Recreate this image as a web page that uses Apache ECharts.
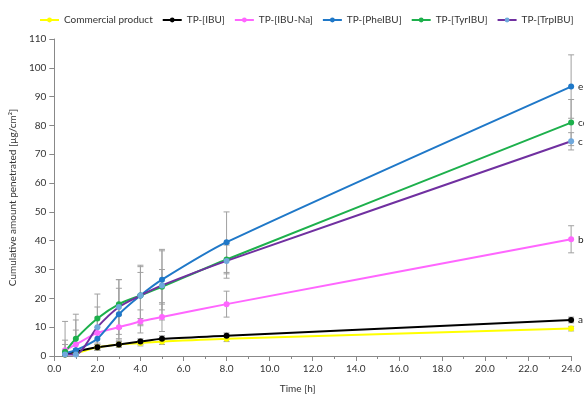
<!DOCTYPE html>
<html><head><meta charset="utf-8">
<script src="https://cdn.jsdelivr.net/npm/echarts@6/dist/echarts.min.js"></script>
<style>html,body{margin:0;padding:0;background:#fff}#c{width:584px;height:400px}</style>
</head><body><div id="c"></div>
<script>
const times = [0.5, 1, 2, 3, 4, 5, 8, 24];
const seriesNames = ['Commercial product','TP-[IBU]','TP-[IBU-Na]','TP-[PheIBU]','TP-[TyrIBU]','TP-[TrpIBU]'];
const commercial = [0.5, 1.0, 3.0, 4.0, 4.5, 5.0, 6.0, 9.5];
const tpIBU      = [0.5, 1.5, 3.0, 4.0, 5.0, 6.0, 7.0, 12.5];
const tpIBUNa    = [2.0, 4.0, 8.0, 10.0, 12.0, 13.5, 18.0, 40.5];
const tpPhe      = [1.0, 2.0, 6.0, 14.5, 21.0, 26.5, 39.5, 93.5];
const tpTyr      = [1.5, 6.0, 13.0, 18.0, 21.0, 24.0, 33.5, 81.0];
const tpTrp      = [0.5, 0.5, 10.0, 17.0, 21.0, 24.5, 33.0, 74.5];
const errCommercial = [0.5, 0.5, 1, 1, 1, 1, 1, 0.8];
const errIBU        = [0.5, 1, 1, 1, 1, 1, 1, 1];
const errIBUNa      = [2, 5, 5.5, 4, 4, 5, 4.5, 4.7];
const errPhe        = [1, 2, 4, 9, 10, 10.5, 10.5, 11];
const errTyr        = [10.5, 8.5, 8.5, 8.5, 8, 6, 5, 8];
const errTrp        = [5, 12, 7, 9.5, 10.5, 12, 6, 3];
const endLabels = ['', 'a', 'b', 'e', 'cd', 'c'];
const lineColors = ['#FFFF00', '#000000', '#FF66FF', '#1F78C8', '#1DB04C', '#7030A0'];
const markerColors = ['#FFFF00', '#000000', '#FF66FF', '#1F78C8', '#1DB04C', '#6FA8DC'];

const values = [commercial, tpIBU, tpIBUNa, tpPhe, tpTyr, tpTrp];
const errs = [errCommercial, errIBU, errIBUNa, errPhe, errTyr, errTrp];
const FONT = 'Lato';

const series = [];
values.forEach((vals, si) => {
  series.push({
    type: 'custom',
    silent: true,
    z: 1,
    data: vals.map((v, i) => [times[i], Math.max(0, v - errs[si][i]), v + errs[si][i]]),
    renderItem: function (params, api) {
      const lo = api.coord([api.value(0), api.value(1)]);
      const hi = api.coord([api.value(0), api.value(2)]);
      const w = 3;
      const st = { stroke: '#a0a0a0', lineWidth: 1 };
      return { type: 'group', children: [
        { type: 'line', shape: { x1: lo[0], y1: lo[1], x2: hi[0], y2: hi[1] }, style: st },
        { type: 'line', shape: { x1: lo[0]-w, y1: lo[1], x2: lo[0]+w, y2: lo[1] }, style: st },
        { type: 'line', shape: { x1: hi[0]-w, y1: hi[1], x2: hi[0]+w, y2: hi[1] }, style: st }
      ]};
    }
  });
});
values.forEach((vals, si) => {
  series.push({
    name: seriesNames[si],
    type: 'line',
    z: 3,
    smooth: 0.25,
    symbol: 'circle',
    symbolSize: 6,
    data: vals.map((v, i) => {
      const d = { value: [times[i], v] };
      if (i === vals.length - 1 && endLabels[si]) {
        d.label = { show: true, position: 'right', distance: 4, formatter: endLabels[si], color: '#222', fontSize: 10, fontFamily: FONT };
      }
      return d;
    }),
    lineStyle: { color: lineColors[si], width: 2 },
    itemStyle: { color: markerColors[si] }
  });
});

const chart = echarts.init(document.getElementById('c'), null, { renderer: 'canvas' });
chart.setOption({
  animation: false,
  textStyle: { fontFamily: FONT },
  legend: {
    top: 10, left: 34, width: 550,
    itemWidth: 19, itemHeight: 6, itemGap: 9,
    textStyle: { fontSize: 10, color: '#333', fontFamily: FONT },
    data: seriesNames.map((n, i) => ({ name: n, itemStyle: { color: markerColors[i] }, lineStyle: { color: lineColors[i] } }))
  },
  grid: { left: 54, right: 11, top: 39, bottom: 44, containLabel: false },
  xAxis: {
    type: 'value', min: 0, max: 24, interval: 2,
    name: 'Time [h]', nameLocation: 'middle', nameGap: 28,
    nameTextStyle: { fontSize: 10, color: '#333', padding: [0, 30, 0, 0] },
    axisLine: { lineStyle: { color: '#888' } },
    axisTick: { show: true, inside: false, lineStyle: { color: '#888' } },
    minorTick: { show: true, splitNumber: 2, length: 3, lineStyle: { color: '#888' } },
    splitLine: { show: false },
    axisLabel: { fontSize: 10, color: '#333', formatter: v => v.toFixed(1) }
  },
  yAxis: {
    type: 'value', min: 0, max: 110, interval: 10,
    name: 'Cumulative amount penetrated [µg/cm²]', nameLocation: 'middle', nameGap: 34,
    nameTextStyle: { fontSize: 10, color: '#333' },
    axisLine: { show: true, lineStyle: { color: '#888' } },
    axisTick: { show: true, lineStyle: { color: '#888' } },
    splitLine: { show: false },
    axisLabel: { fontSize: 10, color: '#333' }
  },
  series: series
});
</script></body></html>
